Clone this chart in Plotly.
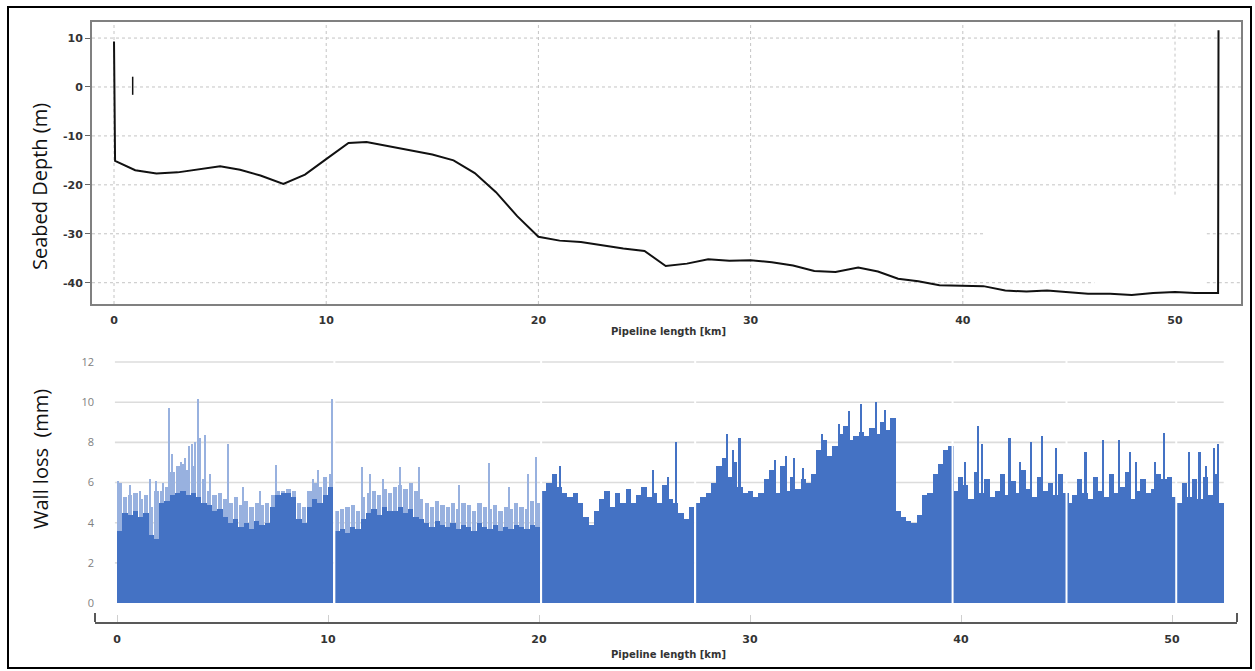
import plotly.graph_objects as go

W, H = 1255, 671

# ---------------- Top chart data: seabed depth profile ----------------
depth_km = [0.0, 0.05, 1.0, 2.0, 3.0, 4.0, 5.0, 5.94, 6.9, 7.98, 9.0, 9.95,
            11.05, 11.9, 13.0, 14.0, 15.0, 16.0, 17.0, 18.0, 19.0, 20.0,
            21.0, 22.0, 23.0, 24.0, 25.0, 26.0, 27.0, 28.0, 29.0, 30.0, 31.0,
            32.0, 33.0, 34.0, 35.07, 36.0, 36.95, 37.9, 38.9, 40.0, 40.97,
            42.0, 43.0, 43.97, 44.96, 45.9, 46.94, 47.96, 48.97, 50.0, 50.94,
            52.03, 52.05]
depth_m = [9.3, -15.1, -17.0, -17.7, -17.45, -16.8, -16.2, -16.9, -18.1, -19.8,
           -17.9, -14.9, -11.45, -11.25, -12.1, -12.9, -13.8, -15.0, -17.6,
           -21.5, -26.4, -30.6, -31.4, -31.7, -32.4, -33.0, -33.5, -36.6,
           -36.1, -35.2, -35.5, -35.4, -35.8, -36.5, -37.6, -37.8, -36.9,
           -37.7, -39.2, -39.7, -40.5, -40.6, -40.7, -41.6, -41.8, -41.6,
           -42.0, -42.25, -42.25, -42.5, -42.1, -41.9, -42.1, -42.1, 11.6]
marker_km = [0.88, 0.88]
marker_m = [2.1, -1.6]
depth_xticks = [0, 10, 20, 30, 40, 50]
depth_yticks = [-40, -30, -20, -10, 0, 10]
depth_ytext = ["-40", "-30", "-20", "-10", "0", "10"]

# ---------------- Bottom chart data: wall loss ----------------
km_step = 0.25
section_starts = [0.0, 10.3, 20.1, 27.4, 39.6, 45.0, 50.2]
wall_s1 = [3.6, 4.5, 4.4, 4.6, 4.3, 4.5, 3.4, 3.2, 5.0, 5.1, 5.4, 5.5, 5.6, 5.4,
           5.5, 5.3, 5.0, 4.9, 4.6, 4.7, 4.3, 4.0, 4.2, 3.8, 4.0, 3.7, 4.1, 3.9,
           4.0, 4.8, 5.4, 5.5, 5.5, 5.3, 4.2, 4.0, 4.8, 5.2, 5.0, 5.4, 5.8]
wall_s2 = [3.6, 3.7, 3.5, 3.8, 3.7, 4.2, 4.5, 4.7, 4.4, 4.8, 4.6, 4.6, 4.8, 4.5,
           4.7, 4.3, 4.2, 4.0, 3.8, 4.1, 3.9, 3.8, 4.0, 3.7, 3.9, 3.8, 3.6, 4.0,
           3.8, 3.7, 3.9, 3.6, 3.8, 3.7, 3.9, 3.8, 3.7, 3.9, 3.8]
wall_s3 = [5.6, 6.0, 6.4, 5.8, 5.5, 5.3, 5.5, 5.0, 4.3, 3.9, 4.6, 5.2, 5.6, 4.8,
           5.5, 5.0, 5.7, 5.0, 5.4, 5.8, 5.3, 5.5, 5.0, 5.9, 5.2, 5.0, 4.5, 4.2,
           4.8]
wall_s4 = [5.0, 5.3, 5.5, 6.0, 6.8, 7.2, 6.3, 7.0, 5.8, 5.5, 5.6, 5.3, 5.5, 6.2,
           6.6, 5.5, 6.8, 5.6, 6.3, 5.7, 6.2, 6.0, 6.4, 7.6, 8.1, 7.3, 7.8, 8.4,
           8.8, 8.1, 8.3, 8.5, 8.3, 8.7, 8.4, 9.0, 8.6, 9.2, 4.6, 4.3, 4.1, 4.0,
           4.4, 5.4, 5.5, 6.4, 6.9, 7.6, 7.8]
wall_s5 = [5.6, 6.3, 5.9, 5.2, 6.5, 5.5, 6.2, 5.3, 5.6, 6.4, 5.4, 6.1, 5.5, 6.6,
           5.7, 5.3, 6.3, 5.6, 6.0, 5.4, 6.4, 5.5]
wall_s6 = [5.0, 5.4, 6.2, 5.5, 5.2, 6.3, 5.6, 5.3, 6.4, 5.5, 5.8, 6.5, 5.2, 5.6,
           6.2, 5.5, 5.7, 6.4, 6.2, 6.3, 5.3]
wall_s7 = [5.0, 6.0, 5.3, 6.2, 5.2, 6.3, 5.4, 6.4, 5.0]
# lighter upper envelope of the dense readings in the first two sections
env_s1 = [6.0, 5.3, 5.4, 5.5, 5.2, 5.4, 4.8, 5.6, 5.6, 5.8, 6.5, 6.8, 6.9, 6.6,
          6.8, 6.2, 6.2, 5.6, 5.4, 5.5, 5.2, 5.0, 5.3, 4.9, 5.1, 4.8, 5.0, 4.9,
          5.0, 5.4, 5.6, 5.6, 5.7, 5.6, 5.0, 4.8, 5.6, 6.0, 5.8, 6.3, 6.4]
env_s2 = [4.6, 4.7, 4.8, 4.9, 4.6, 5.3, 5.5, 5.6, 5.4, 5.7, 5.5, 5.8, 5.9, 5.7,
          6.0, 5.6, 5.2, 5.0, 4.8, 5.1, 4.9, 4.8, 5.0, 4.7, 5.0, 4.9, 4.6, 5.0,
          4.8, 4.7, 4.9, 4.6, 4.8, 4.7, 5.0, 4.8, 4.7, 5.1, 5.0]
# isolated spikes
light_spike_km = [0.05, 0.6, 1.1, 1.55, 1.85, 2.2, 2.47, 2.6, 2.9, 3.05, 3.25,
                  3.42, 3.56, 3.7, 3.85, 3.95, 4.18, 4.4, 5.27, 6.0, 6.8, 7.55,
                  9.3, 9.55, 9.85, 10.2, 11.6, 12.0, 12.6, 13.4, 14.3, 16.2,
                  17.65, 18.6, 19.5, 19.85]
light_spike_mm = [6.1, 5.9, 5.6, 6.2, 6.1, 6.0, 9.7, 7.4, 6.8, 7.0, 7.2, 7.8, 7.9,
                  8.0, 10.15, 8.2, 8.35, 6.4, 7.9, 5.8, 5.6, 6.85, 6.2, 6.6, 6.3,
                  10.15, 6.75, 6.4, 6.2, 6.75, 6.75, 5.9, 6.95, 5.8, 6.4, 7.25]
dark_spike_km = [21.0, 25.4, 26.1, 26.5, 28.9, 29.2, 29.5, 31.2, 31.7, 32.1,
                 32.5, 33.4, 34.2, 34.7, 35.25, 35.95, 36.4, 40.2, 40.8, 41.0,
                 42.3, 42.8, 43.3, 43.85, 44.5, 45.9, 46.75, 47.5, 48.0, 48.3,
                 49.2, 49.6, 50.8, 51.3, 51.6, 52.0, 52.2]
dark_spike_mm = [6.8, 6.6, 6.3, 8.0, 8.4, 7.6, 8.2, 7.1, 7.3, 7.2, 6.7, 8.4, 8.9,
                 9.55, 9.9, 10.0, 9.6, 7.0, 8.8, 7.9, 8.2, 7.0, 8.0, 8.3, 7.7,
                 7.5, 8.1, 8.1, 7.5, 7.0, 7.0, 8.45, 7.5, 7.5, 6.8, 7.7, 7.9]
wall_xticks = [0, 10, 20, 30, 40, 50]
wall_yticks = [0, 2, 4, 6, 8, 10, 12]

BLUE = "#4472C4"
LIGHT = "#98b1df"


def px_x(p):
    return p / W


def px_y(p):
    return 1 - p / H


def section_x(start, values):
    return [start + (j + 0.5) * km_step for j in range(len(values))]


fig = go.Figure()

# top chart traces
fig.add_trace(go.Scatter(x=depth_km, y=depth_m, mode="lines",
                         line=dict(color="#111111", width=2),
                         xaxis="x", yaxis="y", showlegend=False, hoverinfo="skip"))
fig.add_trace(go.Scatter(x=marker_km, y=marker_m, mode="lines",
                         line=dict(color="#111111", width=1.5),
                         xaxis="x", yaxis="y", showlegend=False, hoverinfo="skip"))

# bottom chart traces
walls = [wall_s1, wall_s2, wall_s3, wall_s4, wall_s5, wall_s6, wall_s7]
envs = [env_s1, env_s2]
env_x, env_y = [], []
for start, vals in zip(section_starts, envs):
    env_x += section_x(start, vals)
    env_y += vals
fig.add_trace(go.Bar(x=env_x, y=env_y, width=km_step * 0.8, marker_color=LIGHT,
                     marker_line_width=0, xaxis="x2", yaxis="y2",
                     showlegend=False, hoverinfo="skip"))
fig.add_trace(go.Bar(x=light_spike_km, y=light_spike_mm, width=0.06,
                     marker_color=LIGHT, marker_line_width=0, xaxis="x2",
                     yaxis="y2", showlegend=False, hoverinfo="skip"))
wx, wy = [], []
for start, vals in zip(section_starts, walls):
    wx += section_x(start, vals)
    wy += vals
fig.add_trace(go.Bar(x=wx, y=wy, width=km_step, marker_color=BLUE,
                     marker_line_width=0, xaxis="x2", yaxis="y2",
                     showlegend=False, hoverinfo="skip"))
fig.add_trace(go.Bar(x=dark_spike_km, y=dark_spike_mm, width=0.1,
                     marker_color=BLUE, marker_line_width=0, xaxis="x2",
                     yaxis="y2", showlegend=False, hoverinfo="skip"))

shapes = []
# top gridlines (dotted, with the gaps of the original)
top_xr = [-1.037, 53.11]
top_yr = [-44.35, 13.28]
h_segments = {-30: [(top_xr[0], 41.0), (51.5, top_xr[1])],
              -40: [(top_xr[0], 46.2), (51.5, top_xr[1])]}
for v in depth_yticks:
    for a, b in h_segments.get(v, [(top_xr[0], top_xr[1])]):
        shapes.append(dict(type="line", xref="x", yref="y", x0=a, x1=b, y0=v, y1=v,
                           line=dict(color="#c4c4c4", width=1, dash="dot"),
                           layer="below"))
v_bottom = {50: -22}
for v in depth_xticks:
    shapes.append(dict(type="line", xref="x", yref="y", x0=v, x1=v,
                       y0=v_bottom.get(v, top_yr[0]), y1=top_yr[1],
                       line=dict(color="#c4c4c4", width=1, dash="dot"),
                       layer="below"))

# bottom gridlines
bar_end = section_starts[-1] + len(wall_s7) * km_step
for v in wall_yticks[1:]:
    shapes.append(dict(type="line", xref="x2", yref="y2", x0=-0.1, x1=bar_end,
                       y0=v, y1=v, line=dict(color="#dcdcdc", width=1.6),
                       layer="below"))
# white separators between inspection sections
for s in section_starts[1:]:
    shapes.append(dict(type="line", xref="x2", yref="y2", x0=s, x1=s,
                       y0=-0.15, y1=12.4, line=dict(color="white", width=2),
                       layer="above"))
# end caps of bottom axis
for xp in [95, 1237]:
    shapes.append(dict(type="line", xref="paper", yref="paper",
                       x0=px_x(xp), x1=px_x(xp), y0=px_y(622), y1=px_y(613),
                       line=dict(color="#595959", width=2)))
# outer frame
shapes.append(dict(type="rect", xref="paper", yref="paper",
                   x0=px_x(8), x1=px_x(1251), y0=px_y(668), y1=px_y(7),
                   line=dict(color="black", width=2)))

common = dict(xref="paper", yref="paper", showarrow=False,
              xanchor="center", yanchor="middle")
annotations = [
    dict(text="Seabed Depth (m)", x=px_x(40), y=px_y(187), textangle=-90,
         font=dict(family="Open Sans", size=20, color="#111111"), **common),
    dict(text="Wall loss\u00a0 (mm)", x=px_x(40), y=px_y(459), textangle=-90,
         font=dict(family="Open Sans", size=20, color="#111111"), **common),
    dict(text="Pipeline length [km]", x=px_x(668), y=px_y(331),
         font=dict(family="DejaVu Sans", size=10, color="#333333", weight="bold"),
         **common),
    dict(text="Pipeline length [km]", x=px_x(668), y=px_y(654),
         font=dict(family="DejaVu Sans", size=10, color="#333333", weight="bold"),
         **common),
]

tick_bold = dict(family="DejaVu Sans", size=11, color="#333333", weight="bold")

fig.update_layout(
    width=W, height=H, autosize=False,
    margin=dict(l=0, r=0, t=0, b=0),
    paper_bgcolor="white", plot_bgcolor="white",
    barmode="overlay", bargap=0,
    showlegend=False,
    xaxis=dict(domain=[px_x(92), px_x(1241)], range=top_xr, anchor="y",
               tickvals=depth_xticks, showgrid=False, zeroline=False,
               showline=True, mirror=True, linecolor="#808080", linewidth=2,
               ticks="", tickfont=tick_bold, ticklabelstandoff=5),
    yaxis=dict(domain=[px_y(304), px_y(22)], range=top_yr, anchor="x",
               tickvals=depth_yticks, ticktext=depth_ytext, showgrid=False,
               zeroline=False, showline=True, mirror=True,
               linecolor="#808080", linewidth=2,
               ticks="outside", ticklen=5, tickcolor="#666666",
               tickfont=tick_bold),
    xaxis2=dict(domain=[px_x(95), px_x(1237)], range=[-1.043, 53.08],
                anchor="y2", tickvals=wall_xticks, showgrid=False,
                zeroline=False, showline=True, linecolor="#595959",
                linewidth=2, ticks="inside", ticklen=7, tickcolor="#cfcfcf",
                tickfont=tick_bold, ticklabelstandoff=6),
    yaxis2=dict(domain=[px_y(622), px_y(350)], range=[-0.946, 12.6],
                anchor="x2", tickvals=wall_yticks, showgrid=False,
                zeroline=False, showline=False, ticks="",
                tickfont=dict(family="Open Sans", size=11, color="#808080")),
    shapes=shapes,
    annotations=annotations,
)

fig.write_html("out.html",
               config={"displayModeBar": False},
               post_script="document.body.style.margin='0';"
                           "document.body.style.overflow='hidden';")
